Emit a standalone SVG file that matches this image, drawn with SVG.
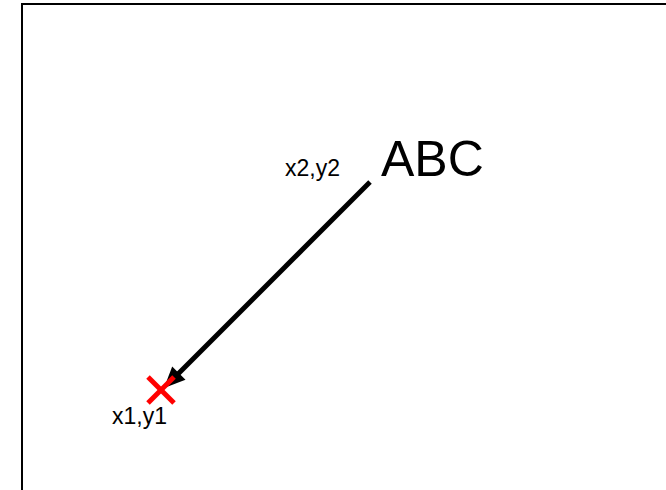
<svg xmlns="http://www.w3.org/2000/svg" width="666" height="490" viewBox="0 0 666 490">
  <style>
    .lbl { font-family: "Liberation Sans", Arial, sans-serif; fill: #000; }
    .small { font-size: 23px; }
    .big { font-size: 50px; }
    .conn { stroke: #000; stroke-width: 5; fill: none; }
    .head { fill: #000; }
    .cross { stroke: #ff0000; stroke-width: 5; }
  </style>
  <rect x="0" y="0" width="666" height="490" fill="#fff"/>
  <rect x="22" y="4" width="700" height="520" fill="none" stroke="#000" stroke-width="2"/>
  <g id="connectors">
    <line class="conn" x1="370" y1="182" x2="176" y2="376"/>
    <polygon class="head" points="164,388 185.5,379.8 172.2,366.5"/>
  </g>
  <g id="node-abc">
    <text class="lbl big" x="381" y="176">ABC</text>
  </g>
  <g id="node-x2y2">
    <text class="lbl small" x="285" y="176">x2,y2</text>
  </g>
  <g id="node-x1y1">
    <g class="cross">
      <line x1="148" y1="377" x2="174" y2="403"/>
      <line x1="174" y1="377" x2="148" y2="403"/>
    </g>
    <text class="lbl small" x="112" y="424">x1,y1</text>
  </g>
</svg>
